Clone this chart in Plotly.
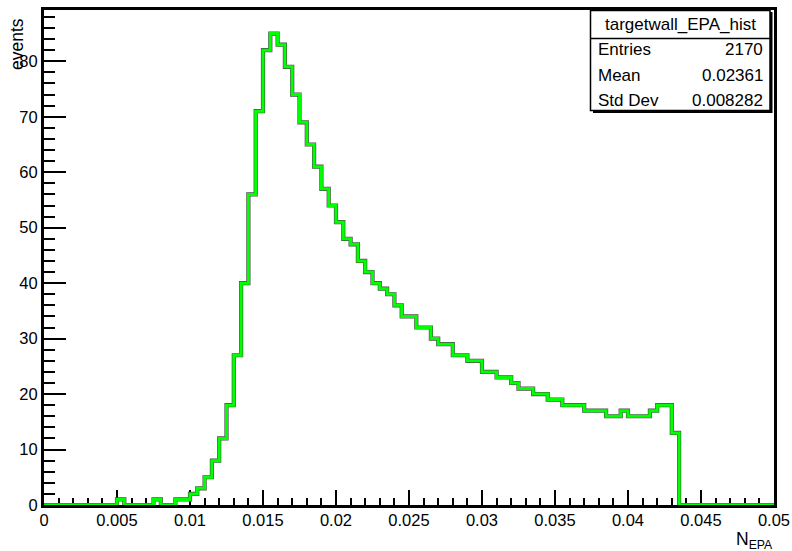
import numpy as np
import plotly.graph_objects as go

# ---------------- data ----------------
x_min, x_max, n_bins = 0.0, 0.05, 100
counts = [
    0, 0, 0, 0, 0, 0, 0, 0, 0, 0,
    1, 0, 0, 0, 0, 1, 0, 0, 1, 1,
    2, 3, 5, 8, 12, 18, 27, 40, 56, 71,
    82, 85, 83, 79, 74, 69, 65, 61, 57, 54,
    51, 48, 47, 44, 42, 40, 39, 38, 36, 34,
    34, 32, 32, 30, 29, 29, 27, 27, 26, 26,
    24, 24, 23, 23, 22, 21, 21, 20, 20, 19,
    19, 18, 18, 18, 17, 17, 17, 16, 16, 17,
    16, 16, 16, 17, 18, 18, 13, 0, 0, 0,
    0, 0, 0, 0, 0, 0, 0, 0, 0, 0,
]
x_tickvals = [0, 0.005, 0.01, 0.015, 0.02, 0.025, 0.03, 0.035, 0.04, 0.045, 0.05]
x_ticktext = ["0", "0.005", "0.01", "0.015", "0.02", "0.025", "0.03", "0.035", "0.04", "0.045", "0.05"]
y_tickvals = [0, 10, 20, 30, 40, 50, 60, 70, 80]
y_ticktext = ["0", "10", "20", "30", "40", "50", "60", "70", "80"]
hist_name = "targetwall_EPA_hist"
stat_labels = ["Entries", "Mean", "Std Dev"]
stat_values = ["2170", "0.02361", "0.008282"]
x_title = "N<sub>EPA</sub>"
y_title = "events"

edges = np.linspace(x_min, x_max, n_bins + 1)
xs = list(edges)
ys = counts + [counts[-1]]
y_max = 1.05 * max(counts)

# ---------------- layout geometry ----------------
W, H = 792, 551
L, R, T, B = 44, 18, 10, 46
PW, PH = W - L - R, H - T - B

def px(xp):
    return (xp - L) / PW

def py(yp):
    return (H - B - yp) / PH

FONT = "Liberation Sans, Arial, sans-serif"

fig = go.Figure()
fig.add_trace(go.Scatter(x=xs, y=ys, mode="lines", line=dict(shape="hv", color="#4d4d4d", width=4.2),
                         hoverinfo="skip", showlegend=False))
fig.add_trace(go.Scatter(x=xs, y=ys, mode="lines", line=dict(shape="hv", color="#00ff00", width=3),
                         showlegend=False))

axis_common = dict(showline=True, linecolor="black", linewidth=3, mirror=True,
                   ticks="inside", tickcolor="black", tickwidth=2,
                   showgrid=False, zeroline=False, layer="below traces",
                   ticklabeloverflow="allow",
                   tickfont=dict(family=FONT, size=16.5, color="black"))

fig.update_xaxes(range=[x_min, x_max], tickvals=x_tickvals, ticktext=x_ticktext, ticklen=15,
                 ticklabelstandoff=-2,
                 minor=dict(dtick=0.001, ticklen=7.5, tickwidth=2, tickcolor="black", ticks="inside", showgrid=False),
                 **axis_common)
fig.update_yaxes(range=[0, y_max], tickvals=y_tickvals, ticktext=y_ticktext, ticklen=22,
                 minor=dict(dtick=2, ticklen=11, tickwidth=2, tickcolor="black", ticks="inside", showgrid=False),
                 **axis_common)

shapes = []
# stats box shadow + box
shapes.append(dict(type="rect", xref="paper", yref="paper", x0=px(593), x1=px(772.5), y0=py(113), y1=py(12),
                   fillcolor="black", line=dict(width=0), layer="above"))
shapes.append(dict(type="rect", xref="paper", yref="paper", x0=px(590.5), x1=px(770), y0=py(110.5), y1=py(10.5),
                   fillcolor="white", line=dict(color="black", width=1.5), layer="above"))
shapes.append(dict(type="line", xref="paper", yref="paper", x0=px(590.5), x1=px(770), y0=py(38.5), y1=py(38.5),
                   line=dict(color="black", width=1.5), layer="above"))

ann = []
ann.append(dict(text=hist_name, xref="paper", yref="paper", x=px(680), y=py(25), xanchor="center", yanchor="middle",
                showarrow=False, font=dict(family=FONT, size=17, color="black")))
row_y = [50, 76, 100.5]
for lab, val, yy in zip(stat_labels, stat_values, row_y):
    ann.append(dict(text=lab, xref="paper", yref="paper", x=px(596), y=py(yy), xanchor="left", yanchor="middle",
                    showarrow=False, font=dict(family=FONT, size=17, color="black")))
    ann.append(dict(text=val, xref="paper", yref="paper", x=px(765), y=py(yy), xanchor="right", yanchor="middle",
                    showarrow=False, font=dict(family=FONT, size=17, color="black")))
# axis titles
ann.append(dict(text=x_title, xref="paper", yref="paper", x=px(775), y=py(527), xanchor="right", yanchor="top",
                showarrow=False, font=dict(family=FONT, size=17.5, color="black")))
ann.append(dict(text=y_title, xref="paper", yref="paper", x=px(17), y=py(16), xanchor="center", yanchor="top",
                textangle=-90, showarrow=False, font=dict(family=FONT, size=17.5, color="black")))

fig.update_layout(width=W, height=H, margin=dict(l=L, r=R, t=T, b=B, pad=0, autoexpand=False),
                  paper_bgcolor="white", plot_bgcolor="white", shapes=shapes, annotations=ann,
                  showlegend=False)

fig.write_html("out.html")
